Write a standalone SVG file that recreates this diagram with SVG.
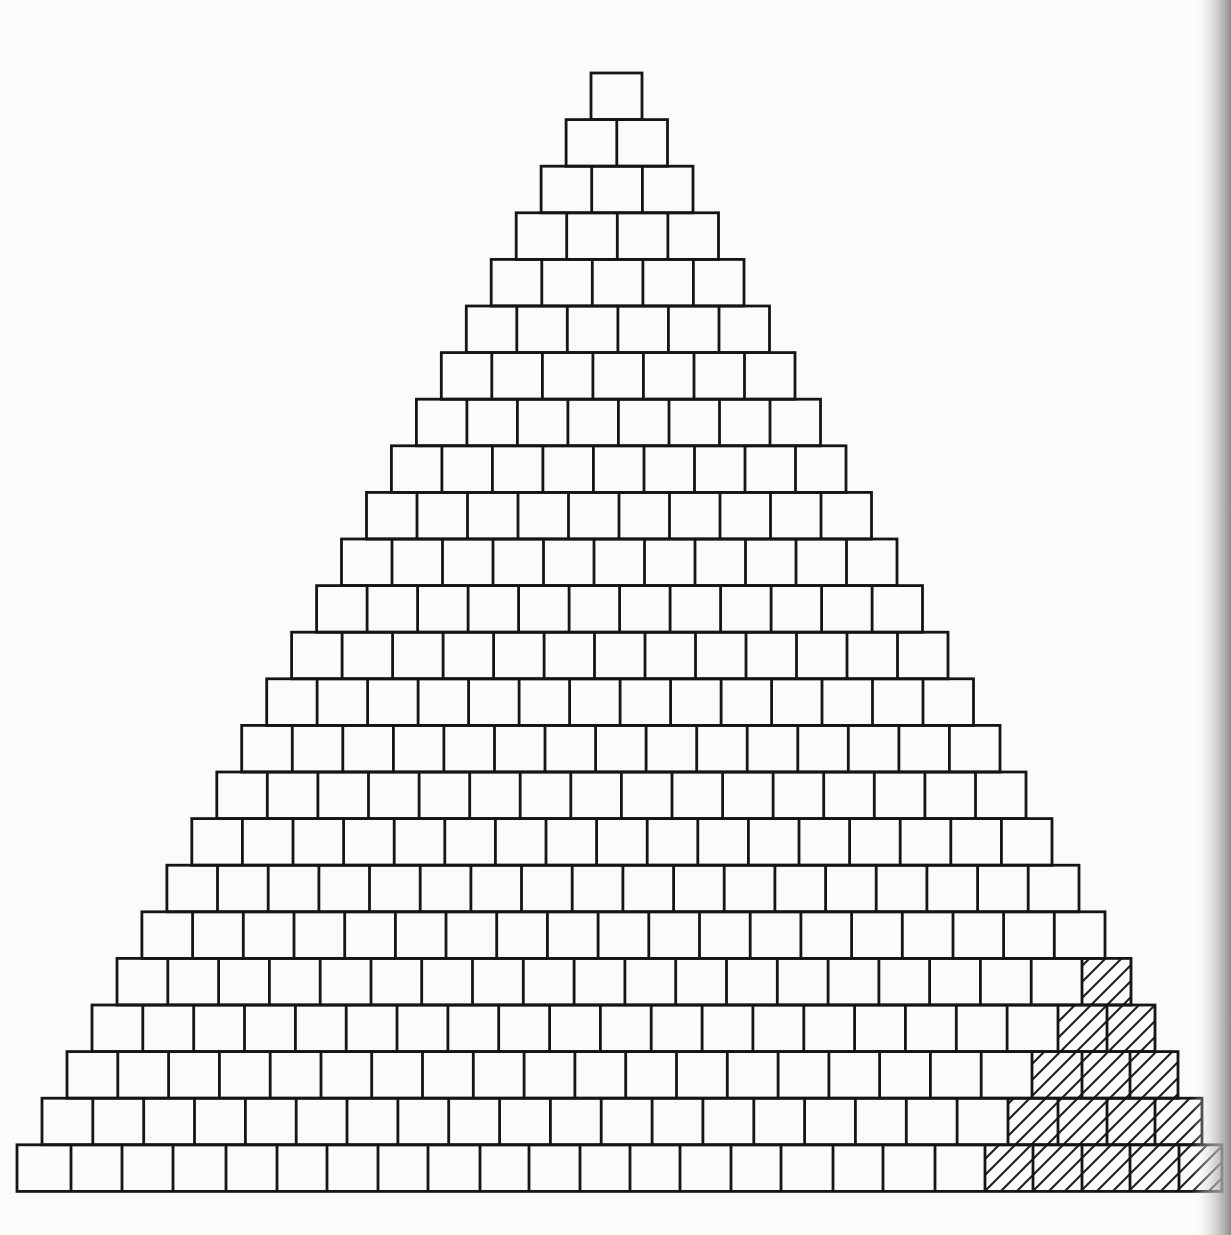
<svg xmlns="http://www.w3.org/2000/svg" width="1231" height="1235" viewBox="0 0 1231 1235">
<style>
.b{fill:none;stroke:#151515;stroke-width:2.8;stroke-linejoin:miter}
.h{fill:url(#hatch);stroke:none}
</style>
<defs>
<pattern id="hatch" patternUnits="userSpaceOnUse" width="16" height="16">
<path d="M0,16 L16,0 M-4,4 L4,-4 M12,20 L20,12" stroke="#1e1e1e" stroke-width="2.1"/>
</pattern>
<linearGradient id="shade" x1="0" y1="0" x2="1" y2="0">
<stop offset="0" stop-color="#ffffff" stop-opacity="0"/>
<stop offset="0.45" stop-color="#d0d0d0" stop-opacity="0.5"/>
<stop offset="1" stop-color="#8c8c8c" stop-opacity="1"/>
</linearGradient>
</defs>
<rect x="0" y="0" width="1231" height="1235" fill="#fbfbfb"/>
<g id="hatched">
<path class="h" d="M1082,958.4H1131V1005H1155V1051.6H1178V1098.2H1202V1144.8H1222V1191.4H985V1144.8H1008V1098.2H1032V1051.6H1058V1005H1082Z"/>
</g>
<g id="pyramid">
<g id="row-01"><rect class="b" x="591" y="73" width="51" height="46.6"/></g>
<g id="row-02"><rect class="b" x="566.1" y="119.6" width="101.4" height="46.6"/><path class="b" d="M616.8,119.6v46.6"/></g>
<g id="row-03"><rect class="b" x="541.1" y="166.2" width="151.9" height="46.6"/><path class="b" d="M591.7,166.2v46.6M642.4,166.2v46.6"/></g>
<g id="row-04"><rect class="b" x="516.2" y="212.8" width="202.3" height="46.6"/><path class="b" d="M566.7,212.8v46.6M617.3,212.8v46.6M667.9,212.8v46.6"/></g>
<g id="row-05"><rect class="b" x="491.2" y="259.4" width="252.8" height="46.6"/><path class="b" d="M541.8,259.4v46.6M592.3,259.4v46.6M642.9,259.4v46.6M693.4,259.4v46.6"/></g>
<g id="row-06"><rect class="b" x="466.3" y="306" width="303.2" height="46.6"/><path class="b" d="M516.8,306v46.6M567.3,306v46.6M617.9,306v46.6M668.4,306v46.6M719,306v46.6"/></g>
<g id="row-07"><rect class="b" x="441.3" y="352.6" width="353.7" height="46.6"/><path class="b" d="M491.8,352.6v46.6M542.4,352.6v46.6M592.9,352.6v46.6M643.4,352.6v46.6M694,352.6v46.6M744.5,352.6v46.6"/></g>
<g id="row-08"><rect class="b" x="416.4" y="399.2" width="404.1" height="46.6"/><path class="b" d="M466.9,399.2v46.6M517.4,399.2v46.6M567.9,399.2v46.6M618.4,399.2v46.6M669,399.2v46.6M719.5,399.2v46.6M770,399.2v46.6"/></g>
<g id="row-09"><rect class="b" x="391.4" y="445.8" width="454.6" height="46.6"/><path class="b" d="M441.9,445.8v46.6M492.4,445.8v46.6M542.9,445.8v46.6M593.4,445.8v46.6M644,445.8v46.6M694.5,445.8v46.6M745,445.8v46.6M795.5,445.8v46.6"/></g>
<g id="row-10"><rect class="b" x="366.5" y="492.4" width="505" height="46.6"/><path class="b" d="M417,492.4v46.6M467.5,492.4v46.6M518,492.4v46.6M568.5,492.4v46.6M619,492.4v46.6M669.5,492.4v46.6M720,492.4v46.6M770.5,492.4v46.6M821,492.4v46.6"/></g>
<g id="row-11"><rect class="b" x="341.5" y="539" width="555.5" height="46.6"/><path class="b" d="M392,539v46.6M442.5,539v46.6M493,539v46.6M543.5,539v46.6M594,539v46.6M644.5,539v46.6M695,539v46.6M745.5,539v46.6M796,539v46.6M846.5,539v46.6"/></g>
<g id="row-12"><rect class="b" x="316.6" y="585.6" width="605.9" height="46.6"/><path class="b" d="M367.1,585.6v46.6M417.6,585.6v46.6M468.1,585.6v46.6M518.6,585.6v46.6M569.1,585.6v46.6M619.6,585.6v46.6M670.1,585.6v46.6M720.6,585.6v46.6M771.1,585.6v46.6M821.6,585.6v46.6M872.1,585.6v46.6"/></g>
<g id="row-13"><rect class="b" x="291.6" y="632.2" width="656.4" height="46.6"/><path class="b" d="M342.1,632.2v46.6M392.6,632.2v46.6M443.1,632.2v46.6M493.6,632.2v46.6M544.1,632.2v46.6M594.5,632.2v46.6M645,632.2v46.6M695.5,632.2v46.6M746,632.2v46.6M796.5,632.2v46.6M847,632.2v46.6M897.5,632.2v46.6"/></g>
<g id="row-14"><rect class="b" x="266.7" y="678.8" width="706.8" height="46.6"/><path class="b" d="M317.1,678.8v46.6M367.6,678.8v46.6M418.1,678.8v46.6M468.6,678.8v46.6M519.1,678.8v46.6M569.6,678.8v46.6M620.1,678.8v46.6M670.6,678.8v46.6M721.1,678.8v46.6M771.6,678.8v46.6M822,678.8v46.6M872.5,678.8v46.6M923,678.8v46.6"/></g>
<g id="row-15"><rect class="b" x="241.7" y="725.4" width="758.3" height="46.6"/><path class="b" d="M292.3,725.4v46.6M342.8,725.4v46.6M393.4,725.4v46.6M443.9,725.4v46.6M494.5,725.4v46.6M545,725.4v46.6M595.6,725.4v46.6M646.1,725.4v46.6M696.7,725.4v46.6M747.2,725.4v46.6M797.8,725.4v46.6M848.3,725.4v46.6M898.9,725.4v46.6M949.4,725.4v46.6"/></g>
<g id="row-16"><rect class="b" x="216.8" y="772" width="809.2" height="46.6"/><path class="b" d="M267.3,772v46.6M317.9,772v46.6M368.5,772v46.6M419.1,772v46.6M469.7,772v46.6M520.2,772v46.6M570.8,772v46.6M621.4,772v46.6M672,772v46.6M722.6,772v46.6M773.1,772v46.6M823.7,772v46.6M874.3,772v46.6M924.9,772v46.6M975.5,772v46.6"/></g>
<g id="row-17"><rect class="b" x="191.8" y="818.6" width="860.2" height="46.6"/><path class="b" d="M242.4,818.6v46.6M293,818.6v46.6M343.6,818.6v46.6M394.2,818.6v46.6M444.8,818.6v46.6M495.4,818.6v46.6M546,818.6v46.6M596.6,818.6v46.6M647.2,818.6v46.6M697.8,818.6v46.6M748.4,818.6v46.6M799,818.6v46.6M849.6,818.6v46.6M900.2,818.6v46.6M950.8,818.6v46.6M1001.4,818.6v46.6"/></g>
<g id="row-18"><rect class="b" x="166.9" y="865.2" width="912.1" height="46.6"/><path class="b" d="M217.5,865.2v46.6M268.2,865.2v46.6M318.9,865.2v46.6M369.5,865.2v46.6M420.2,865.2v46.6M470.9,865.2v46.6M521.5,865.2v46.6M572.2,865.2v46.6M622.9,865.2v46.6M673.6,865.2v46.6M724.2,865.2v46.6M774.9,865.2v46.6M825.6,865.2v46.6M876.2,865.2v46.6M926.9,865.2v46.6M977.6,865.2v46.6M1028.2,865.2v46.6"/></g>
<g id="row-19"><rect class="b" x="141.9" y="911.8" width="963.1" height="46.6"/><path class="b" d="M192.6,911.8v46.6M243.3,911.8v46.6M294,911.8v46.6M344.7,911.8v46.6M395.4,911.8v46.6M446,911.8v46.6M496.7,911.8v46.6M547.4,911.8v46.6M598.1,911.8v46.6M648.8,911.8v46.6M699.5,911.8v46.6M750.2,911.8v46.6M800.9,911.8v46.6M851.6,911.8v46.6M902.3,911.8v46.6M953,911.8v46.6M1003.6,911.8v46.6M1054.3,911.8v46.6"/></g>
<g id="row-20"><rect class="b" x="117" y="958.4" width="1014" height="46.6"/><path class="b" d="M167.8,958.4v46.6M218.6,958.4v46.6M269.4,958.4v46.6M320.2,958.4v46.6M371,958.4v46.6M421.7,958.4v46.6M472.5,958.4v46.6M523.3,958.4v46.6M574.1,958.4v46.6M624.9,958.4v46.6M675.7,958.4v46.6M726.5,958.4v46.6M777.3,958.4v46.6M828.1,958.4v46.6M878.9,958.4v46.6M929.6,958.4v46.6M980.4,958.4v46.6M1031.2,958.4v46.6M1082,958.4v46.6"/></g>
<g id="row-21"><rect class="b" x="92" y="1005" width="1063" height="46.6"/><path class="b" d="M142.8,1005v46.6M193.7,1005v46.6M244.5,1005v46.6M295.4,1005v46.6M346.2,1005v46.6M397,1005v46.6M447.9,1005v46.6M498.7,1005v46.6M549.6,1005v46.6M600.4,1005v46.6M651.2,1005v46.6M702.1,1005v46.6M752.9,1005v46.6M803.8,1005v46.6M854.6,1005v46.6M905.4,1005v46.6M956.3,1005v46.6M1007.1,1005v46.6M1058,1005v46.6M1107,1005v46.6"/></g>
<g id="row-22"><rect class="b" x="67" y="1051.6" width="1111" height="46.6"/><path class="b" d="M117.8,1051.6v46.6M168.6,1051.6v46.6M219.4,1051.6v46.6M270.2,1051.6v46.6M321,1051.6v46.6M371.7,1051.6v46.6M422.5,1051.6v46.6M473.3,1051.6v46.6M524.1,1051.6v46.6M574.9,1051.6v46.6M625.7,1051.6v46.6M676.5,1051.6v46.6M727.3,1051.6v46.6M778.1,1051.6v46.6M828.9,1051.6v46.6M879.6,1051.6v46.6M930.4,1051.6v46.6M981.2,1051.6v46.6M1032,1051.6v46.6M1082,1051.6v46.6M1130,1051.6v46.6"/></g>
<g id="row-23"><rect class="b" x="42" y="1098.2" width="1160" height="46.6"/><path class="b" d="M92.8,1098.2v46.6M143.7,1098.2v46.6M194.5,1098.2v46.6M245.4,1098.2v46.6M296.2,1098.2v46.6M347,1098.2v46.6M397.9,1098.2v46.6M448.7,1098.2v46.6M499.6,1098.2v46.6M550.4,1098.2v46.6M601.2,1098.2v46.6M652.1,1098.2v46.6M702.9,1098.2v46.6M753.8,1098.2v46.6M804.6,1098.2v46.6M855.4,1098.2v46.6M906.3,1098.2v46.6M957.1,1098.2v46.6M1008,1098.2v46.6M1058,1098.2v46.6M1107,1098.2v46.6M1155,1098.2v46.6"/></g>
<g id="row-24"><rect class="b" x="17" y="1144.8" width="1205" height="46.6"/><path class="b" d="M71,1144.8v46.6M122,1144.8v46.6M173,1144.8v46.6M226,1144.8v46.6M277,1144.8v46.6M327,1144.8v46.6M378,1144.8v46.6M428,1144.8v46.6M480,1144.8v46.6M529,1144.8v46.6M580,1144.8v46.6M630,1144.8v46.6M680,1144.8v46.6M731,1144.8v46.6M781,1144.8v46.6M833,1144.8v46.6M883,1144.8v46.6M935,1144.8v46.6M985,1144.8v46.6M1033,1144.8v46.6M1082,1144.8v46.6M1130,1144.8v46.6M1179,1144.8v46.6"/></g>
</g>
<rect x="1192" y="0" width="39" height="1235" fill="url(#shade)"/>
</svg>
